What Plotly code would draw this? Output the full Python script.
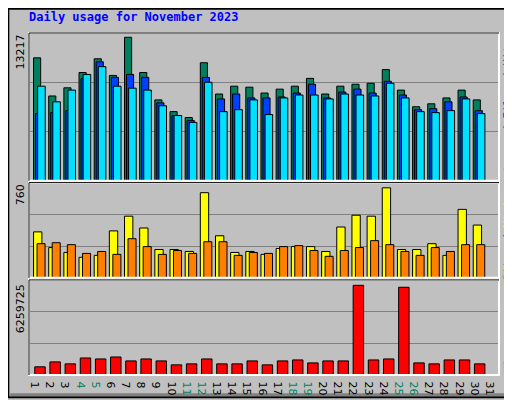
import plotly.graph_objects as go

days = list(range(1, 32))
hits = [11073, 7637, 8371, 9751, 10985, 9487, 12923, 9751, 7284, 6226, 5698, 10632, 7812, 8517, 8429,
        7901, 8253, 8517, 9222, 7812, 8517, 8694, 8782, 10015, 8165, 6667, 6931, 7460, 8165, 7284, 0]
files = [6050, 6138, 6315, 9222, 10720, 9310, 9575, 9310, 7019, 5874, 5433, 9310, 7372, 7812, 7460,
         7460, 7548, 7901, 8694, 7460, 7989, 8253, 7901, 8958, 7724, 6403, 6491, 7108, 7548, 6315, 0]
pages = [8517, 7108, 8165, 9575, 10280, 8517, 8341, 8165, 6755, 5874, 5257, 8870, 6226, 6403, 7284,
         5962, 7460, 7724, 7724, 7372, 7812, 7724, 7636, 8782, 7460, 6226, 6138, 6315, 7372, 6050, 0]
visits = [378, 249, 209, 169, 185, 386, 507, 410, 233, 233, 217, 700, 346, 209, 217,
          193, 241, 257, 257, 217, 418, 515, 507, 740, 233, 233, 281, 185, 563, 434, 0]
sites = [281, 289, 273, 201, 217, 193, 322, 257, 193, 225, 201, 297, 297, 185, 209,
         201, 257, 265, 225, 177, 225, 249, 306, 273, 217, 185, 249, 217, 273, 273, 0]
kbytes = [555000, 888000, 755000, 1154000, 1088000, 1221000, 955000, 1088000, 955000, 688000,
          755000, 1088000, 755000, 755000, 955000, 688000, 955000, 1021000, 821000, 955000,
          955000, 6082000, 1021000, 1088000, 5949000, 821000, 755000, 1021000, 1021000, 755000, 0]
weekend = [4, 5, 11, 12, 18, 19, 25, 26]
max_hits, max_visits, max_kb = 13217, 760, 6259725

outline = dict(color="black", width=1)
fig = go.Figure()
def bar(y, color, off, w, axis):
    fig.add_trace(go.Bar(x=days, y=y, marker=dict(color=color, line=outline),
                         offset=off, width=w, yaxis=axis, showlegend=False))

bar(hits, "#00805c", -0.2, 0.47, "y")
bar(files, "#0040ff", -0.07, 0.47, "y")
bar(pages, "#00e0ff", 0.07, 0.5, "y")
bar(visits, "#ffff00", -0.2, 0.55, "y2")
bar(sites, "#ff8000", 0.03, 0.53, "y3")
bar(kbytes, "#ff0000", -0.12, 0.69, "y4")

ticktext = [f"<span style='color:#00805c'>{d}</span>" if d in weekend else str(d) for d in days]

def yax(dom, top, overlay=None):
    d = dict(domain=dom, range=[0, top], showticklabels=False, tickvals=[top / 3, top * 2 / 3],
             showgrid=True, gridcolor="#808080", gridwidth=1, zeroline=False, fixedrange=True)
    if overlay:
        d["overlaying"] = overlay
        d["showgrid"] = False
    return d

fig.update_layout(
    width=512, height=400, barmode="overlay",
    margin=dict(l=21, r=21, t=25, b=23),
    paper_bgcolor="#c0c0c0", plot_bgcolor="#c0c0c0",
    font=dict(family="DejaVu Sans", size=11, color="black"),
    xaxis=dict(range=[0.5, 31.5], tickvals=days, ticktext=ticktext, ticks="", showgrid=False,
               zeroline=False, anchor="y4", tickfont=dict(size=11)),
    yaxis=yax([0.568, 1], max_hits * 1.007),
    yaxis2=yax([0.284, 0.5625], max_visits * 1.03),
    yaxis3=yax([0.284, 0.5625], max_visits * 1.03, overlay="y2"),
    yaxis4=yax([0, 0.278], max_kb * 1.03),
)

# panel frames
for y0, y1 in [(0.568, 1), (0.284, 0.5625), (0, 0.278)]:
    fig.add_shape(type="rect", xref="paper", yref="paper", x0=0, x1=1, y0=y0, y1=y1,
                  line=dict(color="white", width=2))
    fig.add_shape(type="line", xref="paper", yref="paper", x0=0, x1=1, y0=y1, y1=y1,
                  line=dict(color="black", width=1))
    fig.add_shape(type="line", xref="paper", yref="paper", x0=0, x1=0, y0=y0, y1=y1,
                  line=dict(color="black", width=1))

# outer 3D border
fig.add_shape(type="rect", xref="paper", yref="paper", x0=-0.044, x1=1.044, y0=-0.065, y1=1.071,
              line=dict(color="black", width=2), layer="below")
fig.add_shape(type="line", xref="paper", yref="paper", x0=1.038, x1=1.038, y0=-0.058, y1=1.064,
              line=dict(color="#808080", width=3), layer="below")
fig.add_shape(type="line", xref="paper", yref="paper", x0=-0.04, x1=1.038, y0=-0.058, y1=-0.058,
              line=dict(color="#808080", width=3), layer="below")

fig.add_annotation(text="<b>Daily usage for November 2023</b>", xref="paper", yref="paper",
                   x=-0.005, y=1.02, xanchor="left", yanchor="bottom", showarrow=False,
                   font=dict(family="DejaVu Sans Mono", size=12, color="#0000ff"))

for label, ytop in [(str(max_hits), 1.0), (str(max_visits), 0.5625), (str(max_kb), 0.27)]:
    fig.add_annotation(text=label, textangle=-90, xref="paper", yref="paper", x=-0.019, y=ytop,
                       xanchor="center", yanchor="top", showarrow=False, font=dict(size=11))

right = [
    ("<span style='color:#00e0ff'>Pages</span> / <span style='color:#0040ff'>Files</span> / "
     "<span style='color:#00805c'>Hits</span>", 0.99, "top"),
    ("<span style='color:#ff8000'>Sites</span> / <span style='color:#ffff00'>Visits</span>", 0.555, "top"),
    ("<span style='color:#ff0000'>KBytes</span>", 0.0, "bottom"),
]
for txt, y, ya in right:
    fig.add_annotation(text=txt, textangle=-90, xref="paper", yref="paper", x=1.019, y=y,
                       xanchor="center", yanchor=ya, showarrow=False,
                       font=dict(family="DejaVu Sans Mono", size=11, color="#404040"))

fig.write_html("out.html")
